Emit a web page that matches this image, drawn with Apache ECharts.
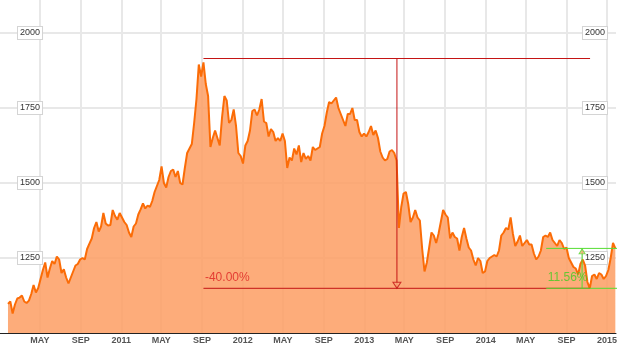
<!DOCTYPE html>
<html>
<head>
<meta charset="utf-8">
<script src="https://cdn.jsdelivr.net/npm/echarts@6/dist/echarts.min.js"></script>
<style>
html,body{margin:0;padding:0;background:#fff;}
#chart{width:628px;height:353px;}
</style>
</head>
<body>
<div id="chart"></div>
<script>
// ---- data (weekly observations, Mondays, starting 2010-01-25) ----
const firstWeek = '2010-01-25';
const gold2010 = [1097,1105,1065,1095,1115,1118,1125,1105,1100,1108,1130,1160,1135,1150,1180,1210,1235,1185,1215,1240,1230,1255,1245,1200,1212,1185,1165,1185,1205,1225,1230,1245,1250,1245,1280,1298,1315,1350,1370,1338,1355,1400,1365,1358,1360,1410,1390,1378,1400];
const gold2011 = [1385,1370,1360,1335,1320,1355,1365,1395,1412,1432,1415,1425,1420,1440,1470,1490,1510,1555,1500,1485,1520,1540,1545,1520,1540,1500,1495,1550,1600,1615,1630,1700,1780,1895,1855,1902,1830,1790,1620,1650,1675,1650,1625,1720,1790,1775,1700,1710,1745,1690,1600,1590];
const gold2012 = [1565,1625,1640,1675,1740,1745,1725,1745,1780,1705,1700,1655,1680,1670,1640,1650,1640,1665,1640,1550,1585,1575,1615,1595,1625,1570,1600,1580,1590,1575,1620,1610,1615,1620,1665,1690,1735,1770,1765,1775,1785,1750,1730,1710,1690,1730,1730,1750,1710,1710,1670,1655,1665];
const gold2013 = [1655,1670,1690,1660,1675,1650,1605,1585,1575,1580,1605,1610,1600,1575,1350,1420,1465,1470,1430,1370,1385,1410,1385,1375,1280,1205,1235,1285,1335,1325,1300,1330,1370,1410,1395,1385,1315,1335,1320,1315,1275,1320,1350,1315,1285,1275,1245,1225,1250,1240,1200,1205];
const gold2014 = [1240,1250,1255,1260,1255,1275,1325,1335,1350,1345,1385,1330,1290,1305,1325,1290,1300,1310,1295,1295,1265,1245,1255,1275,1320,1325,1320,1335,1310,1300,1290,1310,1300,1280,1285,1250,1235,1220,1215,1195,1230,1245,1225,1170,1149,1190,1195,1180,1200,1195,1180,1190];
const gold2015 = [1210,1250,1300,1282];

const xTickDates  = ['2010-05-01','2010-09-01','2011-01-01','2011-05-01','2011-09-01','2012-01-01','2012-05-01','2012-09-01','2013-01-01','2013-05-01','2013-09-01','2014-01-01','2014-05-01','2014-09-01','2015-01-01'];
const xTickLabels = ['MAY','SEP','2011','MAY','SEP','2012','MAY','SEP','2013','MAY','SEP','2014','MAY','SEP','2015'];
const yTickValues = [1250,1500,1750,2000];

// annotation (measure tool) values
const peakValue = 1915;
const troughValue = 1149;
const reboundValue = 1282;
const dropText = '-40.00%';
const riseText = '11.56%';
const dropFrom = '2011-09-05', dropTo = '2014-11-11', dropAt = '2013-04-09';
const riseFrom = '2014-07-02', riseTo = '2015-02-06', riseAt = '2014-10-18';

// ---- helpers ----
function d(s){ const p = s.split('-').map(Number); return new Date(p[0], p[1]-1, p[2]).getTime(); }
function week(i){ const p = firstWeek.split('-').map(Number); return new Date(p[0], p[1]-1, p[2] + 7*i).getTime(); }

const prices = [].concat(gold2010, gold2011, gold2012, gold2013, gold2014, gold2015);
const seriesData = prices.map((v, i) => [week(i), v]);
const tickTimes = xTickDates.map(d);
const labelMap = {};
tickTimes.forEach((t, i) => { labelMap[t] = xTickLabels[i]; });

const RED = '#c41414';
const GREEN = '#55dd33';
const FONT = 'Arial, "Liberation Sans", sans-serif';
const gridColor = '#e8e8e8';

const yLabelStyle = {
  inside: true,
  customValues: yTickValues,
  formatter: v => String(v),
  color: '#333',
  fontSize: 9,
  fontFamily: FONT,
  backgroundColor: '#fff',
  borderColor: '#d4d4d4',
  borderWidth: 1,
  padding: [2, 2, 1, 2]
};

function segment(points, color) {
  return {
    type: 'line', silent: true, clip: false, z: 5,
    symbol: 'none', showSymbol: false,
    lineStyle: { color: color, width: 1 },
    data: points
  };
}

const chart = echarts.init(document.getElementById('chart'), null, { renderer: 'canvas' });
const option = {
  animation: false,
  backgroundColor: '#fff',
  grid: { left: 0, right: 12, top: 0, bottom: 20 },
  xAxis: {
    type: 'value',
    min: d('2010-01-01'),
    max: d('2015-01-28'),
    axisLine: { show: true, lineStyle: { color: '#222', width: 1 } },
    axisTick: { show: false, customValues: tickTimes },
    axisLabel: {
      customValues: tickTimes,
      formatter: v => labelMap[v] || '',
      color: '#555', fontSize: 9, fontWeight: 'bold', fontFamily: FONT,
      margin: 3, hideOverlap: false
    },
    splitLine: { show: true, lineStyle: { color: gridColor, width: 2 } }
  },
  yAxis: [
    {
      type: 'value', min: 1000, max: 2110, interval: 250, position: 'left',
      axisLine: { show: false },
      axisTick: { show: false, customValues: yTickValues },
      axisLabel: Object.assign({ margin: 18 }, yLabelStyle),
      splitLine: { show: true, lineStyle: { color: gridColor, width: 2 } }
    },
    {
      type: 'value', min: 1000, max: 2110, interval: 250, position: 'right',
      axisLine: { show: false },
      axisTick: { show: false, customValues: yTickValues },
      axisLabel: Object.assign({ margin: 9 }, yLabelStyle),
      splitLine: { show: false }
    }
  ],
  series: [
    {
      type: 'line',
      data: seriesData,
      showSymbol: false,
      symbol: 'none',
      lineStyle: { color: '#fb6c07', width: 2 },
      areaStyle: { color: 'rgb(253,158,100)', opacity: 0.86 },
      z: 2
    },
    segment([[d(dropFrom), peakValue], [d(dropTo), peakValue]], RED),
    segment([[d(dropFrom), troughValue], [d(dropTo), troughValue]], RED),
    segment([[d(riseFrom), troughValue], [d(riseTo), troughValue]], GREEN),
    segment([[d(riseFrom), reboundValue], [d(riseTo), reboundValue]], GREEN),
    segment([[d(dropAt), peakValue], [d(dropAt), troughValue]], RED),
    segment([[d(riseAt), troughValue], [d(riseAt), reboundValue]], GREEN),
    {
      type: 'scatter', silent: true, z: 6,
      symbol: 'triangle',
      data: [
        { value: [d(dropAt), troughValue], symbolSize: [8, 6], symbolRotate: 180, symbolOffset: [0, -3],
          itemStyle: { color: '#fdab7a', borderColor: RED, borderWidth: 1 } },
        { value: [d(riseAt), reboundValue], symbolSize: [6, 5], symbolOffset: [0, 3],
          itemStyle: { color: '#fdab7a', borderColor: GREEN, borderWidth: 1 } }
      ]
    },
    {
      type: 'scatter', silent: true, z: 7,
      symbolSize: 1,
      itemStyle: { color: 'rgba(0,0,0,0)' },
      label: { show: true, position: [2, -16], fontSize: 12, fontFamily: FONT },
      data: [
        { value: [d(dropFrom), troughValue], label: { formatter: dropText, color: '#dd2222' } },
        { value: [d(riseFrom), troughValue], label: { formatter: riseText, color: '#44cc22' } }
      ]
    }
  ]
};
chart.setOption(option);
</script>
</body>
</html>
